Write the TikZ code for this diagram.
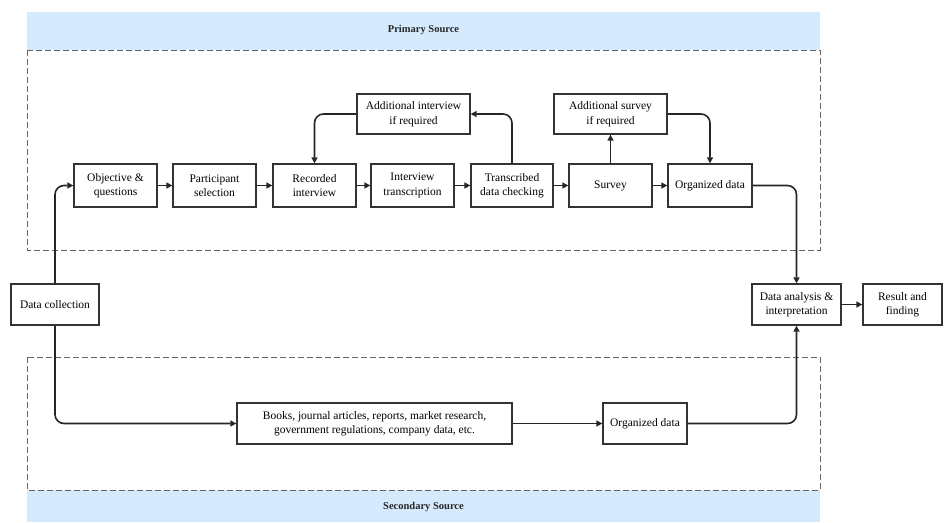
\documentclass[tikz,border=0pt]{standalone}
\usepackage{fontspec}
\setmainfont{Liberation Serif}
\newfontfamily\diagfont{Liberation Serif}
\usetikzlibrary{arrows.meta}
\definecolor{bandblue}{HTML}{D5EAFC}
\definecolor{boxline}{HTML}{333333}
\definecolor{dashgray}{HTML}{666666}
\tikzset{
  band/.style={fill=bandblue, draw=none},
  dashbox/.style={draw=dashgray, line width=1pt, dash pattern=on 6pt off 3pt},
  stepbox/.style={draw=boxline, line width=1.3pt, fill=white, align=center, inner sep=2pt,
     font=\diagfont\fontsize{11.5}{14.5}\selectfont, minimum height=43pt},
  arr/.style={draw=black!85, line width=1.6pt, rounded corners=9pt, -{Triangle[length=6pt,width=6pt]}},
  bandlabel/.style={font=\diagfont\fontsize{10.5}{12}\selectfont\bfseries, text=black!85}
}
\begin{document}
\begin{tikzpicture}[x=1pt,y=-1pt]
\useasboundingbox (0,0) rectangle (944,522);
% bands and dashed regions
\fill[band] (27,12) rectangle (820,50);
\fill[band] (27,490) rectangle (820,522);
\draw[dashbox] (27,50) rectangle (820,250);
\draw[dashbox] (27,357) rectangle (820,490);
\node[bandlabel] (plab) at (423.5,30) {Primary Source};
\node[bandlabel] (slab) at (423.5,507) {Secondary Source};
% primary row
\node[stepbox, minimum width=83pt] (obj) at (115.5,185.5) {Objective \&\\questions};
\node[stepbox, minimum width=83pt] (part) at (214.5,185.5) {Participant\\selection};
\node[stepbox, minimum width=83pt] (rec) at (314.5,185.5) {Recorded\\interview};
\node[stepbox, minimum width=83pt] (itr) at (412.5,185.5) {Interview\\transcription};
\node[stepbox, minimum width=82pt] (tdc) at (512,185.5) {Transcribed\\data checking};
\node[stepbox, minimum width=83pt] (sv) at (610.5,185.5) {Survey};
\node[stepbox, minimum width=84pt] (org) at (710,185.5) {Organized data};
\node[stepbox, minimum width=113pt, minimum height=40pt] (addi) at (413.5,114) {Additional interview\\if required};
\node[stepbox, minimum width=113pt, minimum height=40pt] (adds) at (610.5,114) {Additional survey\\if required};
% middle
\node[stepbox, minimum width=88pt, minimum height=41pt] (dc) at (55,304.5) {Data collection};
\node[stepbox, minimum width=89pt, minimum height=41pt] (da) at (796.5,304.5) {Data analysis \&\\interpretation};
\node[stepbox, minimum width=79pt, minimum height=41pt] (res) at (902.5,304.5) {Result and\\finding};
% secondary row
\node[stepbox, minimum width=275pt, minimum height=41pt] (books) at (374.5,423.5) {Books, journal articles, reports, market research,\\government regulations, company data, etc.};
\node[stepbox, minimum width=84pt, minimum height=41pt] (org2) at (645,423.5) {Organized data};
% connectors
\draw[arr] (dc.north) |- (obj.west);
\draw[arr] (dc.south) |- (books.west);
\draw[arr] (obj) -- (part);
\draw[arr] (part) -- (rec);
\draw[arr] (rec) -- (itr);
\draw[arr] (itr) -- (tdc);
\draw[arr] (tdc) -- (sv);
\draw[arr] (sv) -- (org);
\draw[arr] (tdc.north) |- (addi.east);
\draw[arr] (addi.west) -| (rec.north);
\draw[arr] (sv.north) -- (adds.south);
\draw[arr] (adds.east) -| (org.north);
\draw[arr] (org.east) -| (da.north);
\draw[arr] (books) -- (org2);
\draw[arr] (org2.east) -| (da.south);
\draw[arr] (da) -- (res);
\end{tikzpicture}
\end{document}
